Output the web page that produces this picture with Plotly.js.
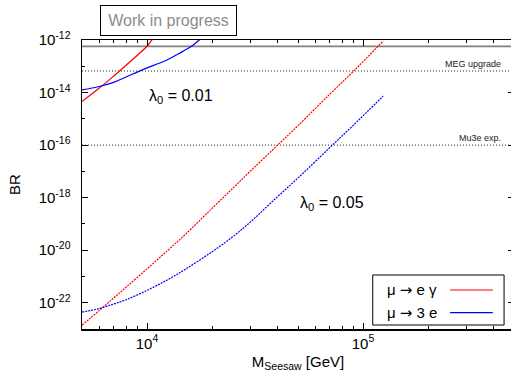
<!DOCTYPE html>
<html>
<head>
<meta charset="utf-8">
<script src="https://cdn.plot.ly/plotly-3.0.1.min.js"></script>
<style>
html,body{margin:0;padding:0;overflow:hidden;background:#fff;}
#chart{width:520px;height:379px;}
</style>
</head>
<body>
<div id="chart"></div>
<script>
// Seesaw mass [GeV]
const massA = [5000, 6000, 7000, 8000, 10000, 12500, 15000, 20000, 25000, 30000, 40000, 50000, 70000, 90000, 124000];
// lambda0 = 0.05
const brMuEGamma005 = [1.4e-23, 5.0e-23, 1.5e-22, 3.9e-22, 1.95e-21, 1.0e-20, 3.9e-20, 3.9e-19, 2.3e-18, 1.0e-17, 9.5e-17, 5.5e-16, 8.5e-15, 6.3e-14, 9.1e-13];
const brMu3e005 = [4.4e-23, 6.0e-23, 8.9e-23, 1.3e-22, 2.95e-22, 7.6e-22, 1.85e-21, 8.7e-21, 3.3e-20, 1.15e-19, 1.05e-18, 5.6e-18, 7.9e-17, 5.6e-16, 7.4e-15];
// lambda0 = 0.01
const massRed001 = [5000, 6000, 7000, 8000, 10000, 10600, 11000];
const brMuEGamma001 = [4.6e-15, 1.45e-14, 4.2e-14, 1.1e-13, 5.8e-13, 1.07e-12, 1.4e-12];
const massBlue001 = [5000, 6000, 7000, 8000, 9000, 10000, 12000, 14000, 16000, 17500, 18000];
const brMu3e001 = [1.26e-14, 1.7e-14, 2.45e-14, 3.9e-14, 6.0e-14, 8.7e-14, 1.55e-13, 3.0e-13, 5.6e-13, 1.02e-12, 1.26e-12];
// experimental limits / sensitivities
const limitNames = ["", "MEG upgrade", "Mu3e exp."];
const limitValues = [5.7e-13, 6.6e-14, 1e-16];
const limitStyles = [{color:"#808080", width:1.6, dash:"solid"}, {color:"#222222", width:1, dash:"1px,2px"}, {color:"#222222", width:1, dash:"1px,2px"}];
// axis ticks
const yMajor = [1e-22, 1e-20, 1e-18, 1e-16, 1e-14, 1e-12];
const yMajorText = ["10<sup>-22</sup>", "10<sup>-20</sup>", "10<sup>-18</sup>", "10<sup>-16</sup>", "10<sup>-14</sup>", "10<sup>-12</sup>"];
const yMinor = [1e-23, 1e-21, 1e-19, 1e-17, 1e-15, 1e-13];
const xMajor = [1e4, 1e5];
const xMajorText = ["10<sup>4</sup>", "10<sup>5</sup>"];
const xMinor = [6000, 7000, 8000, 9000, 20000, 30000, 40000, 50000, 60000, 70000, 80000, 90000, 200000, 300000, 400000];
const ARROW = "<span style=\"font-family:'DejaVu Sans'\">\u2192</span>";
const legendNames = ["\u03bc " + ARROW + " e \u03b3", "\u03bc " + ARROW + " 3 e"];
const seriesColors = ["#ff0000", "#0000ff"];

const traces = [
  {x: massRed001, y: brMuEGamma001, mode: "lines", line: {color: seriesColors[0], width: 1.2, shape: "spline"}, showlegend: false},
  {x: massBlue001, y: brMu3e001, mode: "lines", line: {color: seriesColors[1], width: 1.2, shape: "spline"}, showlegend: false},
  {x: massA, y: brMuEGamma005, mode: "lines", line: {color: seriesColors[0], width: 1.2, dash: "2px,1px", shape: "spline"}, showlegend: false},
  {x: massA, y: brMu3e005, mode: "lines", line: {color: seriesColors[1], width: 1.2, dash: "2px,1px", shape: "spline"}, showlegend: false}
];

const shapes = [];
const annotations = [];
limitValues.forEach((v, i) => {
  shapes.push({type: "line", xref: "paper", x0: 0, x1: 1, yref: "y", y0: v, y1: v, line: limitStyles[i], layer: "below"});
  if (limitNames[i]) {
    annotations.push({xref: "paper", x: 0.974, xanchor: "right", yref: "y", y: Math.log10(v), yanchor: "bottom", yshift: 0,
      text: limitNames[i], showarrow: false, font: {size: 9, color: "#222"}});
  }
});

// custom legend (text left, line sample right)
shapes.push({type: "rect", xref: "paper", yref: "paper", x0: 0.673, x1: 0.977, y0: 0.0138, y1: 0.1869, line: {color: "#000", width: 1}, fillcolor: "#fff"});
const legY = [0.135, 0.0564];
legendNames.forEach((n, i) => {
  shapes.push({type: "line", xref: "paper", yref: "paper", x0: 0.852, x1: 0.951, y0: legY[i], y1: legY[i], line: {color: seriesColors[i], width: 1.2}});
  annotations.push({xref: "paper", yref: "paper", x: 0.826, xanchor: "right", y: legY[i], yanchor: "middle", text: n, showarrow: false, font: {size: 15, color: "#000"}});
});

annotations.push({xref: "paper", yref: "paper", x: 0.2002, y: 1.0675, xanchor: "center", yanchor: "middle",
  text: "Work in progress", showarrow: false, font: {size: 16, color: "#8c8c8c"},
  bordercolor: "#000", borderwidth: 1, borderpad: 0, width: 135, height: 29, bgcolor: "#fff"});
annotations.push({xref: "paper", yref: "paper", x: 0.151, y: 0.805, xanchor: "left", yanchor: "middle",
  text: "\u03bb<sub>0</sub> = 0.01", showarrow: false, font: {size: 16, color: "#000"}});
annotations.push({xref: "paper", yref: "paper", x: 0.5, y: 0.435, xanchor: "left", yanchor: "middle",
  text: "\u03bb<sub>0</sub> = 0.05", showarrow: false, font: {size: 16, color: "#000"}});

const layout = {
  width: 520, height: 379,
  margin: {l: 82, r: 6, t: 40, b: 50},
  paper_bgcolor: "#fff", plot_bgcolor: "#fff",
  font: {family: "Liberation Sans, Arial, sans-serif", size: 15, color: "#000"},
  xaxis: {
    type: "log", range: [Math.log10(5000), Math.log10(500000)],
    tickmode: "array", tickvals: xMajor, ticktext: xMajorText,
    ticks: "inside", ticklen: 6, tickwidth: 1, tickcolor: "#000",
    minor: {tickmode: "array", tickvals: xMinor, ticks: "inside", ticklen: 3, tickcolor: "#000", showgrid: false},
    showline: true, linecolor: "#000", linewidth: 1.5, mirror: "allticks",
    showgrid: false, zeroline: false,
    tickfont: {size: 15},
    title: {text: "M<sub>Seesaw</sub> [GeV]", font: {size: 15}, standoff: 6}
  },
  yaxis: {
    type: "log", range: [-23, -12],
    tickmode: "array", tickvals: yMajor, ticktext: yMajorText,
    ticks: "inside", ticklen: 6, tickwidth: 1, tickcolor: "#000",
    ticklabelstandoff: 7,
    minor: {tickmode: "array", tickvals: yMinor, ticks: "inside", ticklen: 3, tickcolor: "#000", showgrid: false},
    showline: true, linecolor: "#000", linewidth: 1.5, mirror: "allticks",
    showgrid: false, zeroline: false,
    tickfont: {size: 15},
    title: {text: "BR", font: {size: 15}, standoff: 14}
  },
  shapes: shapes,
  annotations: annotations
};

Plotly.newPlot("chart", traces, layout, {staticPlot: true, displayModeBar: false});
</script>
</body>
</html>
